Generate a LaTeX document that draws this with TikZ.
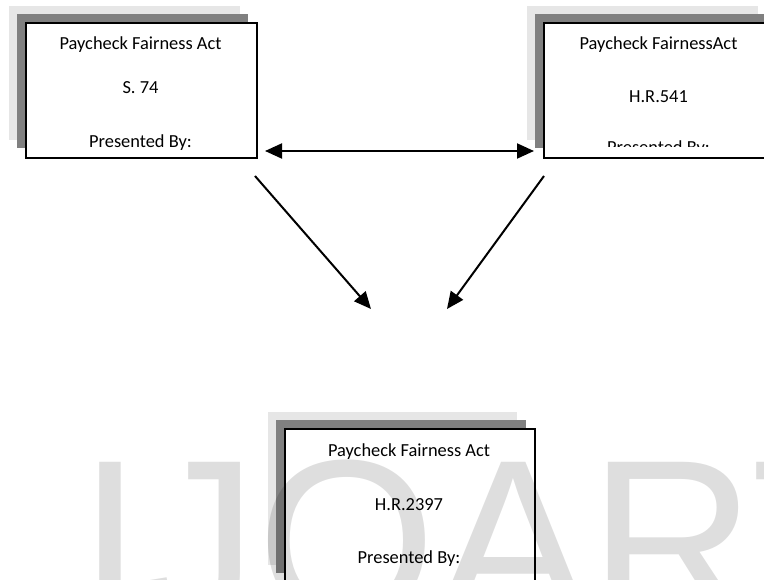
\documentclass[tikz,border=0pt]{standalone}
\usepackage{fontspec}
\setmainfont{Carlito}
\newfontfamily\wmfont{Liberation Sans}
\usetikzlibrary{arrows.meta}
\definecolor{shlight}{HTML}{E6E6E6}
\definecolor{shdark}{HTML}{808080}
\begin{document}
\begin{tikzpicture}[x=1pt,y=-1pt,
  lightsh/.style={fill=shlight},
  darksh/.style={fill=shdark},
  frontbox/.style={draw=black, line width=2pt, fill=white, anchor=north west, inner sep=0},
  boxtext/.style={font=\fontsize{18.4}{22}\selectfont, anchor=base, inner sep=0},
  conn/.style={line width=2pt},
  >={Triangle[length=17pt,width=15pt]}]
\clip (0,0) rectangle (764,580);
\fill[white] (0,0) rectangle (764,580);
% box 1
\fill[lightsh] (9,6) rectangle (240,140);
\fill[darksh] (17,14) rectangle (248,148);
\node[frontbox, minimum width=231pt, minimum height=135pt] (b1) at (25,22) {};
\node[boxtext] (b1a) at (140.5,50) {Paycheck Fairness Act};
\node[boxtext] (b1b) at (140.5,93.5) {S. 74};
\node[boxtext] (b1c) at (140.5,148) {Presented By:};
% box 2
\fill[lightsh] (527,6) rectangle (758,140);
\fill[darksh] (535,14) rectangle (766,148);
\node[frontbox, minimum width=231pt, minimum height=135pt] (b2) at (543,22) {};
\node[boxtext] (b2a) at (658.5,50) {Paycheck FairnessAct};
\node[boxtext] (b2b) at (658.5,103) {H.R.541};
\begin{scope}
\clip (544,23) rectangle (774,147);
\node[boxtext] (b2c) at (658.5,153.5) {Presented By:};
\end{scope}
% box 3
\fill[lightsh] (268,412) rectangle (517,565);
\fill[darksh] (276,420) rectangle (526,573);
\node[frontbox, minimum width=250pt, minimum height=156pt] (b3) at (284,428) {};
\node[boxtext] (b3a) at (409,456.7) {Paycheck Fairness Act};
\node[boxtext] (b3b) at (409,510) {H.R.2397};
\node[boxtext] (b3c) at (409,563) {Presented By:};
% connectors
\coordinate (dl) at (265,151);
\coordinate (dr) at (534,151);
\draw[conn,<->] (dl) -- (dr);
\coordinate (l1) at (255,176);
\coordinate (l2) at (371,309);
\draw[conn,->] (l1) -- (l2);
\coordinate (r1) at (544,176);
\coordinate (r2) at (447,309);
\draw[conn,->] (r1) -- (r2);
% watermark
\node[font=\wmfont\fontsize{230}{230}\selectfont, text=black, text opacity=0.13, anchor=base west, inner sep=0] (wm) at (78,620) {IJOART};
\end{tikzpicture}
\end{document}
